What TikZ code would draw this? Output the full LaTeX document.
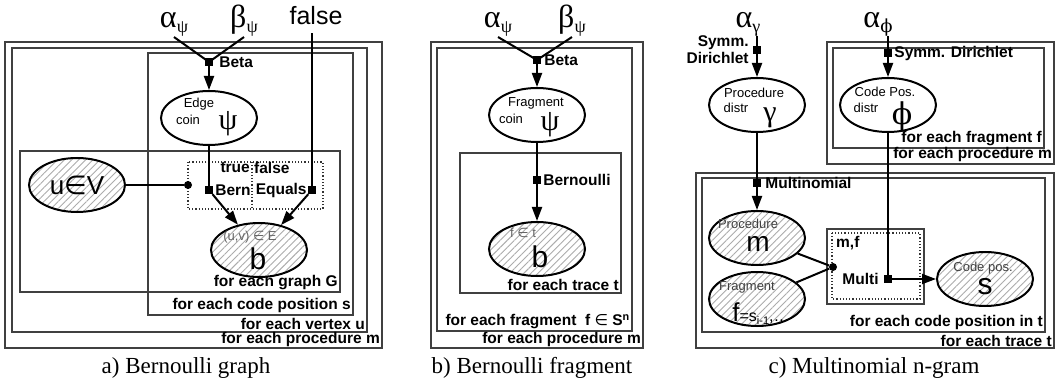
\documentclass[tikz,border=0pt]{standalone}
\usepackage{fontspec}
\setmainfont{Liberation Serif}
\setsansfont{Liberation Sans}
\newfontfamily\djv{DejaVu Sans}
\newfontfamily\djs{DejaVu Serif}
\usetikzlibrary{arrows.meta,patterns.meta,positioning,shapes.geometric}
\newcommand{\lbl}{\sffamily\bfseries\fontsize{15.5}{17}\selectfont}
\newcommand{\sml}{\sffamily\fontsize{13}{14}\selectfont}
\newcommand{\elt}{{\djv ∈}}
\newcommand{\vphi}{{\djs ϕ}}
\newcommand{\hyp}[2]{{\rmfamily\fontsize{32}{32}\selectfont #1\raisebox{-5pt}{\fontsize{18}{18}\selectfont #2}}}
\tikzset{
  fac/.style={rectangle,fill,minimum size=8pt,inner sep=0pt},
  dotnode/.style={circle,fill,minimum size=8pt,inner sep=0pt},
  var/.style={ellipse,draw,line width=2pt,fill=white,minimum width=96pt,minimum height=54pt,inner sep=0pt},
  obs/.style={ellipse,draw,line width=2pt,minimum width=96pt,minimum height=54pt,inner sep=0pt,
    preaction={fill=white},pattern={Lines[angle=45,distance=5pt,line width=0.9pt]},pattern color=gray!65},
  plate/.style={draw=black!75,line width=1.2pt},
  sub/.style={draw=black!80,line width=1.2pt,dotted},
  plab/.style={font=\lbl,anchor=south east,inner sep=0pt},
  lab/.style={font=\lbl,inner sep=0pt},
  hp/.style={inner sep=0pt,anchor=base},
  txt/.style={font=\sml,inner sep=0pt},
  gtxt/.style={font=\sml,inner sep=0pt,text=black!60},
  gr/.style={font=\rmfamily\fontsize{30}{30}\selectfont,inner sep=0pt},
  bigl/.style={font=\sffamily\fontsize{30}{30}\selectfont,inner sep=0pt},
  ln/.style={line width=2pt},
  arr/.style={line width=2pt,-{Triangle[length=14pt,width=10pt]}},
  capt/.style={font=\rmfamily\fontsize{23}{23}\selectfont,inner sep=0pt},
}
\begin{document}
\begin{tikzpicture}[x=1pt,y=-1pt]
  \useasboundingbox (0,0) rectangle (1056,387);

  % a) Bernoulli graph
  \draw[plate] (5,42) rectangle (382,348);
  \draw[plate] (12,48) rectangle (367,332);
  \draw[plate] (148,53) rectangle (353,315);
  \draw[plate] (20,151) rectangle (340,292);
  \draw[sub] (188,162) rectangle (323,209);
  \draw[sub] (252,162) -- (252,209);
  \node[plab] (pa1) at (380,347) {for each procedure m};
  \node[plab] (pa2) at (365,330) {for each vertex u};
  \node[plab] (pa3) at (351,313) {for each code position s};
  \node[plab] (pa4) at (338,290) {for each graph G};

  \node[hp] (aa) at (174,28) {\hyp{α}{ψ}};
  \node[hp] (ab) at (244,28) {\hyp{β}{ψ}};
  \node[hp,font=\sffamily\fontsize{25}{25}\selectfont,inner ysep=8pt] (af) at (316,25) {false};
  \node[fac] (betaA) at (209,62) {};
  \node[lab,right=6pt of betaA] (betaAl) {Beta};
  \node[var] (ecA) at (209,118) {};
  \node[txt] at ([shift={(-10,-14)}]ecA.center) {Edge};
  \node[txt] at ([shift={(-21,2)}]ecA.center) {coin};
  \node[gr] at ([shift={(19,6)}]ecA.center) {ψ};
  \node[fac] (bernA) at (209,190) {};
  \node[lab,right=2pt of bernA] (bernAl) {Bern};
  \node[fac] (eqA) at (312,190) {};
  \node[lab,left=1pt of eqA] (eqAl) {Equals};
  \node[lab,anchor=east] (trA) at (250,168) {true};
  \node[lab,anchor=west] (flA) at (254,168) {false};
  \node[dotnode] (dotA) at (188,185) {};
  \node[obs] (uvA) at (77,185) {\sffamily\fontsize{26}{26}\selectfont u\elt V};
  \node[obs] (bA) at (259,250) {};
  \node[gtxt] at ([shift={(-9,-13)}]bA.center) {(u,v) \elt\ E};
  \node[bigl] at ([shift={(-1,9)}]bA.center) {b};

  \draw[ln] (aa.south) -- (betaA.center);
  \draw[ln] (ab.south) -- (betaA.center);
  \draw[arr] (betaA) -- (ecA);
  \draw[ln] (ecA) -- (bernA.center);
  \draw[arr] (bernA) -- (bA);
  \draw[arr] (eqA) -- (bA);
  \draw[ln] (af.south -| eqA) -- (eqA.center);
  \draw[ln] (uvA) -- (dotA);
  \node[capt] (capA) at (186,368) {a) Bernoulli graph};

  % b) Bernoulli fragment
  \draw[plate] (431,42) rectangle (643,348);
  \draw[plate] (437,48) rectangle (632,331);
  \draw[plate] (460,153) rectangle (621,293);
  \node[plab] (pb1) at (641,347) {for each procedure m};
  \node[plab] (pb2) at (630,329) {for each fragment\ \ f {\mdseries\elt} S\textsuperscript{n}};
  \node[plab] (pb3) at (619,291) {for each trace t};

  \node[hp] (ba) at (498,28) {\hyp{α}{ψ}};
  \node[hp] (bb) at (572,28) {\hyp{β}{ψ}};
  \node[fac] (betaB) at (537,60) {};
  \node[lab,right=3pt of betaB] (betaBl) {Beta};
  \node[var] (fcB) at (537,115) {};
  \node[txt] at ([shift={(-1,-12)}]fcB.center) {Fragment};
  \node[txt] at ([shift={(-26,4)}]fcB.center) {coin};
  \node[gr] at ([shift={(13,10)}]fcB.center) {ψ};
  \node[fac] (bernB) at (537,180) {};
  \node[lab,right=2pt of bernB] (bernBl) {Bernoulli};
  \node[obs] (bB) at (537,249) {};
  \node[gtxt] at ([shift={(-14,-16)}]bB.center) {f \elt\ t};
  \node[bigl] at ([shift={(3,8)}]bB.center) {b};

  \draw[ln] (ba.south) -- (betaB.center);
  \draw[ln] (bb.south) -- (betaB.center);
  \draw[arr] (betaB) -- (fcB);
  \draw[ln] (fcB) -- (bernB.center);
  \draw[arr] (bernB) -- (bB);
  \node[capt] (capB) at (532,368) {b) Bernoulli fragment};

  % c) Multinomial n-gram
  \draw[plate] (827,42) rectangle (1054,164);
  \draw[plate] (833,48) rectangle (1044,148);
  \draw[plate] (696,173) rectangle (1054,348);
  \draw[plate] (702,178) rectangle (1045,332);
  \draw[plate] (827,229) rectangle (924,304);
  \draw[sub] (832,233) rectangle (920,299);
  \node[plab] (pc1) at (1052,162) {for each procedure m};
  \node[plab] (pc2) at (1042,146) {for each fragment f};
  \node[plab] (pc3) at (1052,347) {for each trace t};
  \node[plab] (pc4) at (1043,330) {for each code position in t};
  \node[lab,anchor=north west] (mfC) at (836,236) {m,f};

  \node[hp] (cg) at (748,28) {\hyp{α}{γ}};
  \coordinate (cgl) at (757,36);
  \node[fac] (sdC) at (757,50) {};
  \node[lab,align=right,left=4pt of sdC] (sdCl) {Symm.\\Dirichlet};
  \node[var] (pdC) at (757,105) {};
  \node[txt] at ([shift={(-3,-12)}]pdC.center) {Procedure};
  \node[txt] at ([shift={(-21,3)}]pdC.center) {distr};
  \node[gr] at ([shift={(13,13)}]pdC.center) {γ};
  \node[fac] (mnC) at (757,183) {};
  \node[lab,right=4pt of mnC] (mnCl) {Multinomial};
  \node[obs] (pmC) at (757,238) {};
  \node[gtxt,text=black!75] at ([shift={(-9,-14)}]pmC.center) {Procedure};
  \node[bigl,font=\sffamily\fontsize{28}{28}\selectfont] at ([shift={(1,6)}]pmC.center) {m};
  \node[obs] (frC) at (757,299) {};
  \node[gtxt,text=black!75] at ([shift={(-10,-12)}]frC.center) {Fragment};
  \node[inner sep=0pt,font=\sffamily] at ([shift={(4,15)}]frC.center)
    {\fontsize{26}{26}\selectfont f\fontsize{16}{16}\selectfont =s\raisebox{-3pt}{\fontsize{11}{11}\selectfont i-1},\ldots};
  \node[dotnode] (dotC) at (833,267) {};

  \node[hp] (cp) at (878,28) {\hyp{α}{\vphi}};
  \coordinate (cpl) at (888,36);
  \node[fac] (sd2C) at (888,53) {};
  \node[lab,right=2pt of sd2C] (sd2Cl) {Symm. Dirichlet};
  \node[var] (cdC) at (888,105) {};
  \node[txt] at ([shift={(-3,-13)}]cdC.center) {Code Pos.};
  \node[txt] at ([shift={(-22,3)}]cdC.center) {distr};
  \node[gr] at ([shift={(14,11)}]cdC.center) {\vphi};
  \node[fac] (mulC) at (888,279) {};
  \node[lab,left=5pt of mulC] (mulCl) {Multi};
  \node[obs] (csC) at (985,279) {};
  \node[gtxt,text=black!75] at ([shift={(-2,-11)}]csC.center) {Code pos.};
  \node[bigl] at ([shift={(0,8)}]csC.center) {s};

  \draw[ln] (cgl) -- (sdC.center);
  \draw[arr] (sdC) -- (pdC);
  \draw[ln] (pdC) -- (mnC.center);
  \draw[arr] (mnC) -- (pmC);
  \draw[ln] (pmC) -- (dotC);
  \draw[ln] (frC) -- (dotC);
  \draw[ln] (cpl) -- (sd2C.center);
  \draw[arr] (sd2C) -- (cdC);
  \draw[ln] (cdC) -- (mulC.center);
  \draw[arr] (mulC) -- (csC);
  \node[capt] (capC) at (874,368) {c) Multinomial n-gram};
\end{tikzpicture}
\end{document}
